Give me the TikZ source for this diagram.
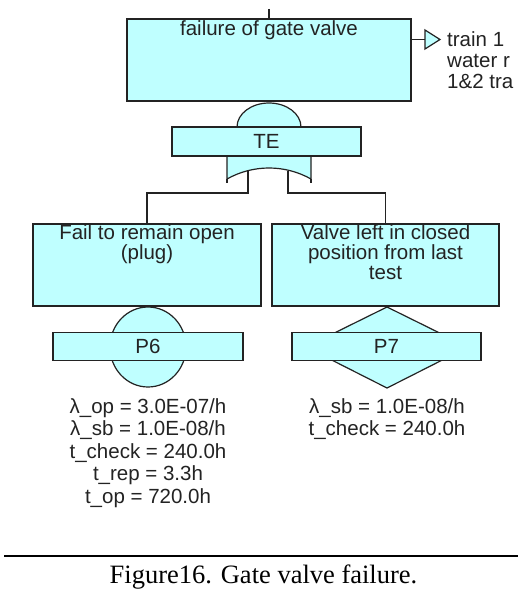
\documentclass[tikz,border=0pt]{standalone}
\usepackage{fontspec}
\setmainfont{Liberation Serif}
\setsansfont{Liberation Sans}
\usetikzlibrary{math}
\usetikzlibrary{shapes.geometric, arrows}
\definecolor{ftcyan}{RGB}{191,255,255}
\definecolor{ftline}{RGB}{35,35,35}

\begin{document}
\begin{tikzpicture}[x=1pt,y=-1pt,
  ftbox/.style={draw=ftline,fill=ftcyan,line width=1.2pt,inner sep=0pt},
  fttext/.style={font=\sffamily\fontsize{20.5}{20}\selectfont,inner sep=0pt,align=center,text=ftline},
  ftparam/.style={font=\sffamily\fontsize{20.5}{22.5}\selectfont,inner sep=0pt,align=center,anchor=north,text=ftline},
  ftwire/.style={draw=ftline,line width=1.2pt}]
\useasboundingbox (0,0) rectangle (518,594);
\fill[white] (0,0) rectangle (518,594);
%%%% sizes
\tikzmath{
\bw=228;
\bh=82;
\pw=190;
\ph=28;
\gx=269;
}
%%%%%% AND gate (behind TE)
\filldraw[ftbox] (237,127) arc (180:360:32 and 24);
\filldraw[ftbox] (227,156) -- (227,179) arc (240.65:299.35:85.7) -- (311,156);
\draw[ftwire] (227,179) -- (227,183) (311,179) -- (311,183);
%%%%%% basic event circle and undeveloped diamond
\filldraw[ftbox] (148,347) ellipse [x radius=38, y radius=40];
\filldraw[ftbox] (387,307) -- (468,347) -- (387,388) -- (306,347) -- cycle;
%%%%%% boxes
\node[ftbox,minimum width=284pt,minimum height=\bh pt] (top) at (\gx,60) {};
\node[ftbox,fttext,minimum width=189pt,minimum height=29pt] (te) at (266.5,141.5) {TE};
\node[ftbox,minimum width=\bw pt,minimum height=\bh pt] (plug) at (147,265) {};
\node[ftbox,minimum width=227pt,minimum height=\bh pt] (closed) at (385.5,265) {};
\node[ftbox,fttext,minimum width=\pw pt,minimum height=\ph pt] (p6) at (148,346.5) {P6};
\node[ftbox,fttext,minimum width=189pt,minimum height=\ph pt] (p7) at (386.5,346.5) {P7};
%%%% box texts
\node[fttext,anchor=north] (toptxt) at ([yshift=-2.5pt]top.north) {failure of gate valve};
\node[fttext,anchor=north] (plugtxt) at ([yshift=-1.5pt]plug.north) {Fail to remain open\\(plug)};
\node[fttext,anchor=north] (closedtxt) at ([yshift=-1.5pt]closed.north) {Valve left in closed\\position from last\\test};
%%%% parameters
\node[ftparam] (p6par) at (148,398) {λ\_op = 3.0E-07/h\\λ\_sb = 1.0E-08/h\\t\_check = 240.0h\\t\_rep = 3.3h\\t\_op = 720.0h};
\node[ftparam] (p7par) at (387,398) {λ\_sb = 1.0E-08/h\\t\_check = 240.0h};
%%%% wires
\coordinate (in) at (\gx,9);
\draw[ftwire] (in) -- (top.north);
\coordinate (gl) at (248,171);
\coordinate (gr) at (288,171);
\draw[ftwire] (gl) -- ++(0,22) -| (plug.north);
\draw[ftwire] (gr) -- ++(0,22) -| (closed.north);
%%%% transfer out
\coordinate (xfer) at (425,39.5);
\draw[ftwire] (top.east |- xfer) -- (xfer);
\filldraw[ftbox] (xfer) -- ++(0,-9.5) -- ++(15,9.5) -- ++(-15,9.5) -- cycle;
\node[fttext,font=\sffamily\fontsize{20.5}{21}\selectfont,anchor=north west,align=left] (xfertxt) at (447,31.5) {train 1\\water r\\1\&2 tra};
%%%% caption
\coordinate (rl) at (4,556);
\coordinate (rr) at (518,556);
\draw[line width=2.3pt] (rl) -- (rr);
\node[font=\fontsize{26.5}{30}\selectfont,anchor=base,inner sep=0pt] (caption) at (263.5,583) {Figure16. Gate valve failure.};
\end{tikzpicture}
\end{document}
